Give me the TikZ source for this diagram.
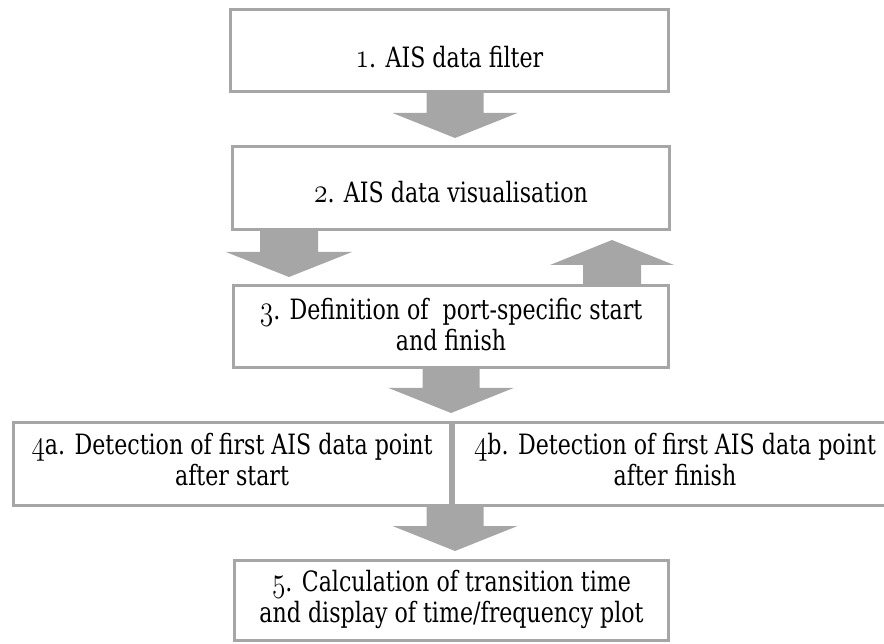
\documentclass[tikz,border=0pt]{standalone}
\usepackage{fontspec}
\usepackage{graphicx}
\setmainfont{DejaVu Serif}
\usetikzlibrary{calc}
\definecolor{boxgray}{HTML}{A6A6A6}
\newcommand\osd[1]{\scalebox{1.4}{\usefont{OML}{lmm}{b}{it}#1}}
% horizontally condensed text block, optional vertical shift (box size kept)
\newcommand\sq[2][0pt]{\raisebox{#1}[\height][\depth]{\scalebox{0.79}[1]{\begin{tabular}{@{}c@{}}#2\end{tabular}}}}
\tikzset{
  stepbox/.style={draw=boxgray, line width=3pt, fill=white, align=center,
    inner sep=0pt, font=\fontsize{28}{31}\selectfont, text=black},
  blockarrow/.style={fill=boxgray, draw=none}
}
% #1 start coordinate, #2 tip coordinate, #3 shaft half width, #4 head half width, #5 head length (signed along y)
\newcommand\blkarrow[5]{%
  \fill[blockarrow] ($(#1)+(-#3,0)$) -- ($(#1)+(#3,0)$) -- ($(#2)+(#3,-#5)$) -- ($(#2)+(#4,-#5)$)
    -- (#2) -- ($(#2)+(-#4,-#5)$) -- ($(#2)+(-#3,-#5)$) -- cycle;}
\begin{document}
\begin{tikzpicture}[x=1pt,y=-1pt]
\useasboundingbox (0,0) rectangle (884,644);
\clip (0,0) rectangle (884,644);
% coordinates for arrows
\coordinate (a1s) at (455,92);
\coordinate (a1t) at (455,138);
\coordinate (a2s) at (289,230);
\coordinate (a2t) at (289,277);
\coordinate (a3s) at (612,285);
\coordinate (a3t) at (612,240);
\coordinate (a4s) at (451,368);
\coordinate (a4t) at (451,413);
\coordinate (a5s) at (455,506);
\coordinate (a5t) at (455,551);
\blkarrow{a1s}{a1t}{28.5}{62.5}{25}
\blkarrow{a2s}{a2t}{29}{63}{25}
\blkarrow{a3s}{a3t}{29}{62}{-25}
\blkarrow{a4s}{a4t}{28.5}{62.5}{25}
\blkarrow{a5s}{a5t}{28.5}{62.5}{25}
% boxes
\node[stepbox, minimum width=438pt, minimum height=82pt] (b1) at (449.5,50.5) {\sq[-11pt]{\osd{1}. AIS data filter}};
\node[stepbox, minimum width=437pt, minimum height=83pt] (b2) at (451,188) {\sq[-8pt]{\osd{2}. AIS data visualisation}};
\node[stepbox, minimum width=435pt, minimum height=82pt] (b3) at (451,326.5) {\sq[-2pt]{\osd{3}. Definition of\ \ port-specific start\\and finish}};
\node[stepbox, minimum width=437pt, minimum height=83pt] (b4a) at (232,464) {\sq{\osd{4}a. Detection of first AIS data point\\after start}};
\node[stepbox, minimum width=443pt, minimum height=83pt] (b4b) at (675,464) {\sq{\osd{4}b. Detection of first AIS data point\\after finish}};
\node[stepbox, minimum width=434pt, minimum height=80pt] (b5) at (451.5,600.5) {\sq{\osd{5}. Calculation of transition time\\and display of time/frequency plot}};
\end{tikzpicture}
\end{document}
